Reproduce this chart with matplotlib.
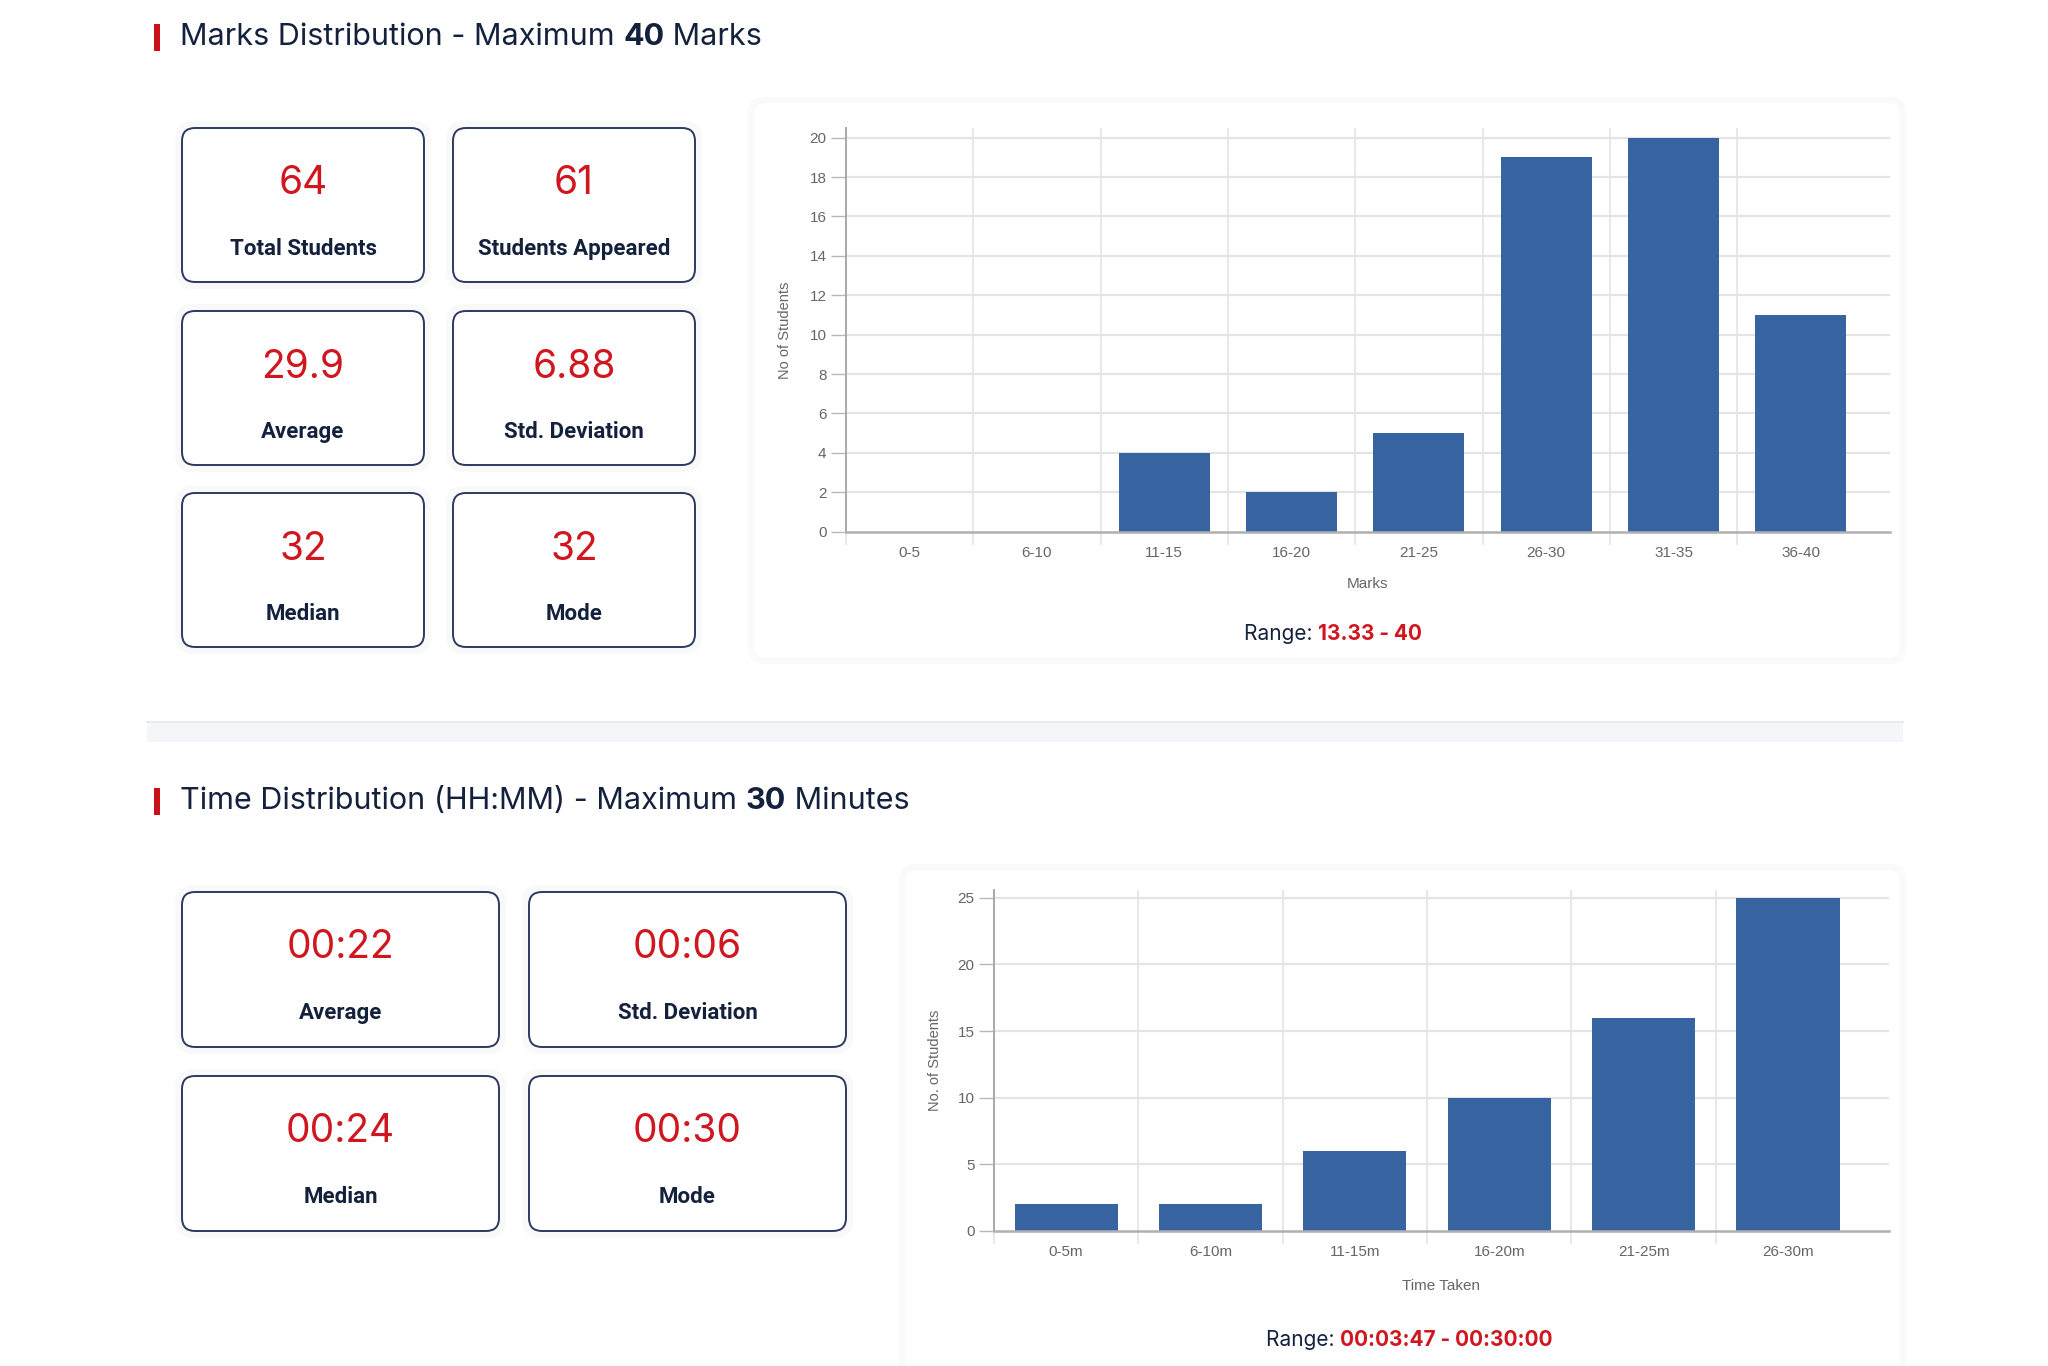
import matplotlib
matplotlib.use("Agg")
import matplotlib.pyplot as plt
from matplotlib.patches import FancyBboxPatch, Rectangle
from matplotlib.ticker import FixedLocator
import numpy as np

# ---- data ----
marks_bins = ["0-5", "6-10", "11-15", "16-20", "21-25", "26-30", "31-35", "36-40"]
marks_counts = [0, 0, 4, 2, 5, 19, 20, 11]
marks_stat_values = ["64", "61", "29.9", "6.88", "32", "32"]
marks_stat_labels = ["Total Students", "Students Appeared", "Average",
                     "Std. Deviation", "Median", "Mode"]
marks_range = "13.33 - 40"

time_bins = ["0-5m", "6-10m", "11-15m", "16-20m", "21-25m", "26-30m"]
time_counts = [2, 2, 6, 10, 16, 25]
time_stat_values = ["00:22", "00:06", "00:24", "00:30"]
time_stat_labels = ["Average", "Std. Deviation", "Median", "Mode"]
time_range = "00:03:47 - 00:30:00"

NAVY = "#14213d"
RED = "#d0161e"
BAR = "#3764a0"
GRID = "#e4e4e4"
TICKC = "#666666"
TITLE_FONT = "Inter"
CARD_FONT = "Roboto"
AX_FONT = "Liberation Sans"

W, H = 2048, 1366
fig = plt.figure(figsize=(W / 100, H / 100), dpi=100)
fig.patch.set_facecolor("white")

# page layer in pixel coordinates
bg = fig.add_axes([0, 0, 1, 1], zorder=0)
bg.set_xlim(0, W)
bg.set_ylim(H, 0)
bg.axis("off")
renderer = fig.canvas.get_renderer()


def rich_text(x, y, parts, center=False):
    cur = x
    made = []
    for s, props in parts:
        t = bg.text(cur, y, s, va="center", ha="left", **props)
        w = t.get_window_extent(renderer).width
        made.append(t)
        cur += w
    if center:
        shift = (cur - x) / 2
        for t in made:
            px, py = t.get_position()
            t.set_position((px - shift, py))


def section_title(y, pre, bold, post):
    bg.add_patch(Rectangle((154, y - 13), 6, 27, color="#cc1019", lw=0))
    f = dict(fontsize=22, color=NAVY, family=TITLE_FONT)
    rich_text(180, y, [(pre, f), (bold, dict(f, weight="bold")), (post, f)])


def card(x, y, w, h, value, label):
    bg.add_patch(FancyBboxPatch((x - 7, y - 7), w + 14, h + 14,
                                boxstyle="round,pad=0,rounding_size=18",
                                fc="#f9f9fa", ec="none", zorder=1))
    bg.add_patch(FancyBboxPatch((x, y), w, h, boxstyle="round,pad=0,rounding_size=13",
                                fc="white", ec="#2b3a5e", lw=1.4, zorder=2))
    bg.text(x + w / 2, y + 56, value, ha="center", va="center", fontsize=28,
            color=RED, family=TITLE_FONT, zorder=3)
    bg.text(x + w / 2, y + 121, label, ha="center", va="center", fontsize=16,
            color=NAVY, weight="bold", family=CARD_FONT, zorder=3)


def panel(x, y, w, h):
    bg.add_patch(FancyBboxPatch((x - 6, y - 6), w + 12, h + 12,
                                boxstyle="round,pad=0,rounding_size=16",
                                fc="#fafafa", ec="none", zorder=1))
    bg.add_patch(FancyBboxPatch((x, y), w, h, boxstyle="round,pad=0,rounding_size=12",
                                fc="white", ec="none", zorder=2))


def bar_chart(rect, cats, vals, ymax, ystep, ytop, ylabel, xlabel, ylab_x, xlab_y):
    ax = fig.add_axes(rect, zorder=5)
    ax.set_facecolor("none")
    n = len(cats)
    x = np.arange(n)
    ax.bar(x, vals, width=0.715, color=BAR, zorder=3)
    ax.set_xlim(-0.5, n - 0.5 + 0.2)
    ax.set_ylim(0, ytop)
    ax.set_xticks(x)
    ax.set_xticklabels(cats, family=AX_FONT, fontsize=11, color=TICKC)
    ax.xaxis.set_minor_locator(FixedLocator(np.arange(n) - 0.5))
    ax.tick_params(axis="x", which="major", length=0, pad=10)
    ax.tick_params(axis="x", which="minor", length=9, width=1.2, color=GRID)
    yt = np.arange(0, ymax + 0.1, ystep)
    ax.set_yticks(yt)
    ax.set_yticklabels([f"{v:g}" for v in yt], family=AX_FONT, fontsize=11, color=TICKC)
    ax.tick_params(axis="y", length=11, width=1.0, color="#b8b8b8", pad=3)
    for b in np.arange(1, n) - 0.5:
        ax.axvline(b, color=GRID, lw=1.2, zorder=1)
    for v in yt[1:]:
        ax.axhline(v, color=GRID, lw=1.6, zorder=1)
    for s in ("top", "right"):
        ax.spines[s].set_visible(False)
    ax.spines["left"].set_color("#a8a8a8")
    ax.spines["left"].set_linewidth(1.4)
    ax.spines["bottom"].set_color("#b0b0b0")
    ax.spines["bottom"].set_linewidth(1.8)
    ax.spines["bottom"].set_zorder(4)
    ax.set_ylabel(ylabel, family=AX_FONT, fontsize=10.5, color=TICKC)
    ax.yaxis.set_label_coords(ylab_x, 0.5)
    ax.set_xlabel(xlabel, family=AX_FONT, fontsize=11, color=TICKC)
    ax.xaxis.set_label_coords(0.5, xlab_y)
    return ax


# ---- section 1: marks ----
section_title(37, "Marks Distribution - Maximum ", "40", " Marks")
cols1 = [182, 453]
rows1 = [128, 311, 493]
for i, (v, lab) in enumerate(zip(marks_stat_values, marks_stat_labels)):
    card(cols1[i % 2], rows1[i // 2], 242, 154, v, lab)

panel(754, 103, 1146, 555)
bar_chart([846 / W, 1 - 531.7 / H, (1890 - 846) / W, (531.7 - 128) / H],
          marks_bins, marks_counts, 20, 2, 20.49, "No of Students", "Marks",
          -0.052, -0.112)
rf = dict(fontsize=15, color=NAVY, family=TITLE_FONT)
rich_text(1333, 634, [("Range: ", rf),
                      (marks_range, dict(rf, color=RED, weight="bold"))], center=True)

# separator band
bg.add_patch(Rectangle((147, 722), 1756, 20, fc="#f4f6f9", ec="none", zorder=1))
bg.plot([147, 1903], [722, 722], color="#e7eaef", lw=1.5, zorder=2)

# ---- section 2: time ----
section_title(801, "Time Distribution (HH:MM) - Maximum ", "30", " Minutes")
cols2 = [182, 529]
rows2 = [892, 1076]
for i, (v, lab) in enumerate(zip(time_stat_values, time_stat_labels)):
    card(cols2[i % 2], rows2[i // 2], 317, 155, v, lab)

panel(905, 870, 995, 520)
bar_chart([994 / W, 1 - 1231 / H, (1889 - 994) / W, (1231 - 890) / H],
          time_bins, time_counts, 25, 5, 25.58, "No. of Students", "Time Taken",
          -0.058, -0.14)
rich_text(1409, 1340, [("Range: ", rf),
                       (time_range, dict(rf, color=RED, weight="bold"))], center=True)

fig.savefig("out.png", dpi=100, facecolor="white")
